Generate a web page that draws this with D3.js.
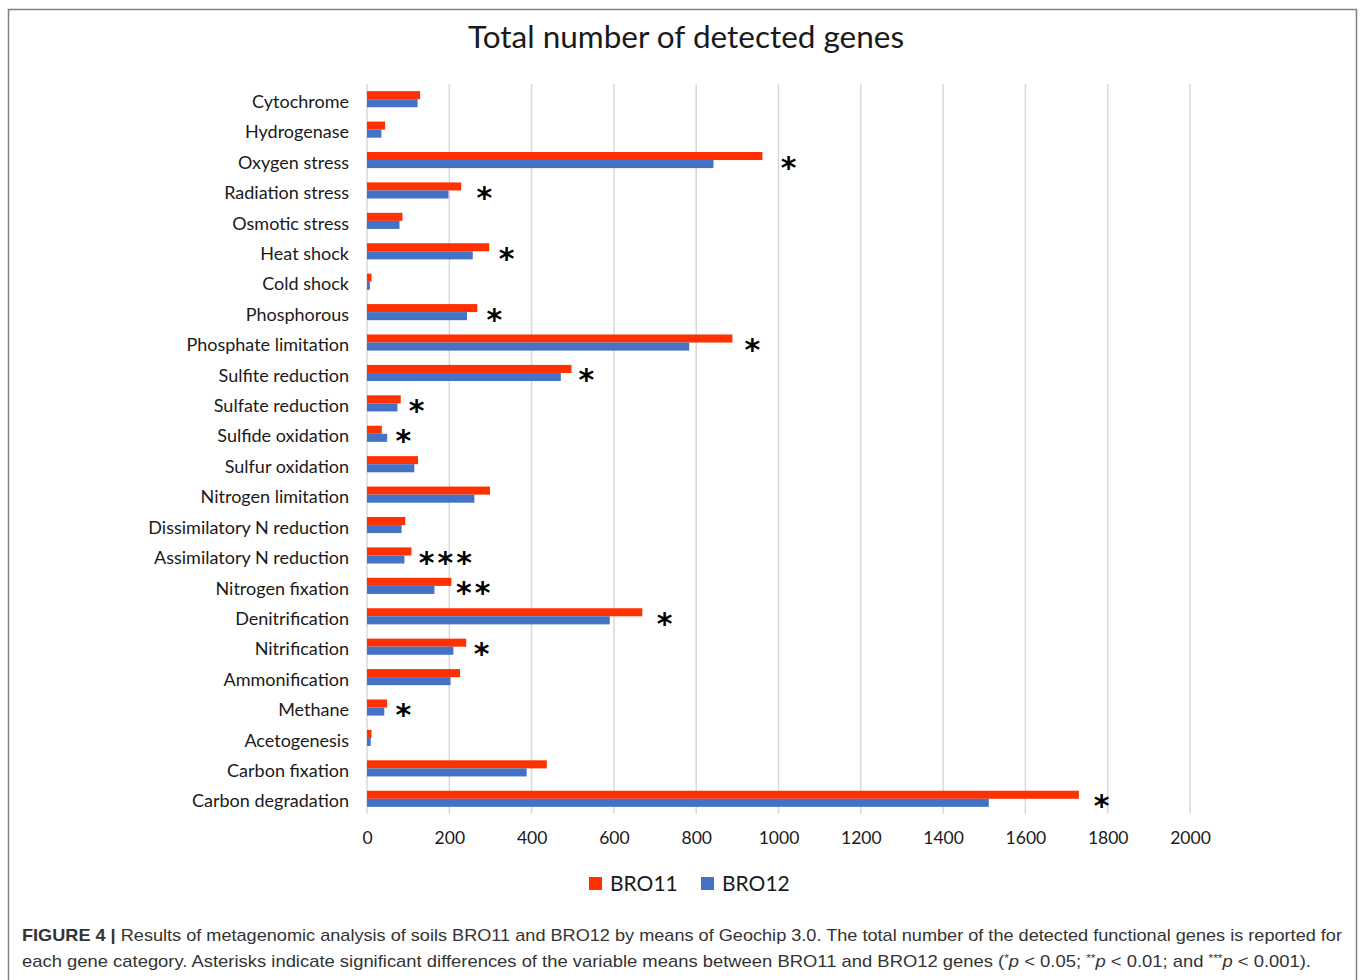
<!DOCTYPE html>
<html>
<head>
<meta charset="utf-8">
<script src="https://cdn.jsdelivr.net/npm/d3@7/dist/d3.min.js"></script>
<style>
  html, body { margin: 0; padding: 0; background: #fff; }
  svg { display: block; }
</style>
</head>
<body>
<svg id="chart" width="1360" height="980"></svg>
<script>
// ---------- data ----------
const categories = [
  "Cytochrome", "Hydrogenase", "Oxygen stress", "Radiation stress", "Osmotic stress",
  "Heat shock", "Cold shock", "Phosphorous", "Phosphate limitation", "Sulfite reduction",
  "Sulfate reduction", "Sulfide oxidation", "Sulfur  oxidation", "Nitrogen limitation",
  "Dissimilatory N reduction", "Assimilatory N reduction", "Nitrogen fixation",
  "Denitrification", "Nitrification", "Ammonification", "Methane", "Acetogenesis",
  "Carbon fixation", "Carbon degradation"
];
const seriesNames = ["BRO11", "BRO12"];
const bro11 = [129, 44, 961, 229, 86, 297, 11, 268, 888, 497, 82, 36, 124, 299, 93, 108, 205, 669, 241, 226, 49, 11, 437, 1730];
const bro12 = [123, 35, 842, 198, 79, 257, 7, 243, 783, 471, 74, 49, 115, 261, 84, 91, 164, 590, 210, 203, 42, 9, 388, 1511];
const xTicks = [0, 200, 400, 600, 800, 1000, 1200, 1400, 1600, 1800, 2000];
// significance marks: category, label, anchor position in data units
const sigCategories = ["Oxygen stress", "Radiation stress", "Heat shock", "Phosphorous",
  "Phosphate limitation", "Sulfite reduction", "Sulfate reduction", "Sulfide oxidation",
  "Assimilatory N reduction", "Nitrogen fixation", "Denitrification", "Nitrification",
  "Methane", "Carbon degradation"];
const sigLabels = ["*", "*", "*", "*", "*", "*", "*", "*", "***", "**", "*", "*", "*", "*"];
const sigAt = [1028, 289, 343, 313, 940, 537, 124, 92, 194, 262, 727, 282, 92, 1789];

const title = "Total number of detected genes";
const captionBold = "FIGURE 4 | ";
const captionLine1 = "Results of metagenomic analysis of soils BRO11 and BRO12 by means of Geochip 3.0. The total number of the detected functional genes is reported for";

// ---------- drawing ----------
const svg = d3.select("#chart");
const RED = "#ff3100", BLUE = "#4472c4";
const labelFont = "Lato, 'Open Sans', sans-serif";

// frame (top, left, right)
svg.append("path")
  .attr("d", "M8.5,980 L8.5,9.5 L1356.5,9.5 L1356.5,980")
  .attr("fill", "none").attr("stroke", "#808080").attr("stroke-width", 1.5);

const x = d3.scaleLinear().domain([0, 2000]).range([367, 1190]);
const y = d3.scaleBand().domain(categories).range([84, 814]).paddingInner(0.47).paddingOuter(0.235);
const ySub = d3.scaleBand().domain(seriesNames).range([0, y.bandwidth()]);
const color = d3.scaleOrdinal().domain(seriesNames).range([RED, BLUE]);

// grid
const grid = svg.append("g");
grid.selectAll("line").data(xTicks.slice(1)).join("line")
  .attr("x1", d => x(d)).attr("x2", d => x(d))
  .attr("y1", 84).attr("y2", 814)
  .attr("stroke", "#d9d9d9").attr("stroke-width", 1.5);
// category axis line
svg.append("line").attr("x1", x(0)).attr("x2", x(0)).attr("y1", 84).attr("y2", 814)
  .attr("stroke", "#d9d9d9").attr("stroke-width", 1.5);

// bars
const rows = categories.map((c, i) => ({ c, vals: [bro11[i], bro12[i]] }));
const gRows = svg.append("g").selectAll("g").data(rows).join("g")
  .attr("transform", d => `translate(0,${y(d.c)})`);
gRows.selectAll("rect").data(d => d.vals.map((v, k) => ({ s: seriesNames[k], v })))
  .join("rect")
  .attr("x", x(0))
  .attr("y", d => ySub(d.s))
  .attr("width", d => x(d.v) - x(0))
  .attr("height", ySub.bandwidth())
  .attr("fill", d => color(d.s));

// category labels
const yAxis = d3.axisLeft(y).tickSize(0).tickPadding(18);
const gy = svg.append("g").attr("transform", `translate(${x(0)},0)`).call(yAxis);
gy.select(".domain").remove();
gy.selectAll("text").attr("font-family", labelFont).attr("font-size", 18).attr("dy", "0.48em").attr("fill", "#1a1a1a");

// x axis labels
const xAxis = d3.axisBottom(x).tickValues(xTicks).tickSize(0).tickPadding(18).tickFormat(d3.format("d"));
const gx = svg.append("g").attr("transform", `translate(0,814)`).call(xAxis);
gx.select(".domain").remove();
gx.selectAll("text").attr("font-family", labelFont).attr("font-size", 17.5).attr("fill", "#1a1a1a");

// significance asterisks
const starSize = 30;
svg.append("g").selectAll("text").data(sigCategories).join("text")
  .attr("x", (d, i) => x(sigAt[i]))
  .attr("y", d => y(d) + y.bandwidth() / 2 + 1 + starSize * 0.55)
  .attr("text-anchor", "middle")
  .attr("font-family", "'DejaVu Sans', sans-serif")
  .attr("font-weight", "bold")
  .attr("font-size", starSize)
  .attr("letter-spacing", 3)
  .attr("fill", "#000")
  .text((d, i) => sigLabels[i]);

// title
svg.append("text").attr("x", 686).attr("y", 48).attr("text-anchor", "middle")
  .attr("font-family", labelFont).attr("font-size", 31.5).attr("fill", "#1a1a1a")
  .text(title);

// legend
const legend = svg.append("g").attr("transform", "translate(589,877)");
const li = legend.selectAll("g").data(seriesNames).join("g")
  .attr("transform", (d, i) => `translate(${i * 112},0)`);
li.append("rect").attr("width", 13).attr("height", 13).attr("fill", d => color(d));
li.append("text").attr("x", 21).attr("y", 14).attr("font-family", labelFont)
  .attr("font-size", 21).attr("fill", "#1a1a1a").text(d => d);

// caption
const capFont = "'Liberation Sans', Arial, sans-serif";
const cap1 = svg.append("text").attr("x", 22).attr("y", 941).attr("font-family", capFont)
  .attr("font-size", 17).attr("fill", "#333");
cap1.append("tspan").attr("font-weight", "bold").text(captionBold);
cap1.append("tspan").text(captionLine1);
const cap2 = svg.append("text").attr("x", 22).attr("y", 967).attr("font-family", capFont)
  .attr("font-size", 17).attr("fill", "#333");
cap2.append("tspan").text("each gene category. Asterisks indicate significant differences of the variable means between BRO11 and BRO12 genes (");
const parts = [["*", "sup"], ["p", "i"], [" < 0.05; ", ""], ["**", "sup"], ["p", "i"], [" < 0.01; and ", ""], ["***", "sup"], ["p", "i"], [" < 0.001).", ""]];
parts.forEach(([t, k]) => {
  const ts = cap2.append("tspan").text(t);
  if (k === "i") ts.attr("font-style", "italic");
  if (k === "sup") ts.attr("font-size", 11).attr("dy", -5);
  if (k === "i") ts.attr("dy", 5);
});
function fit(sel, target) {
  sel.attr("textLength", target).attr("lengthAdjust", "spacingAndGlyphs");
}
fit(cap1, 1320);
fit(cap2, 1289);
</script>
</body>
</html>
